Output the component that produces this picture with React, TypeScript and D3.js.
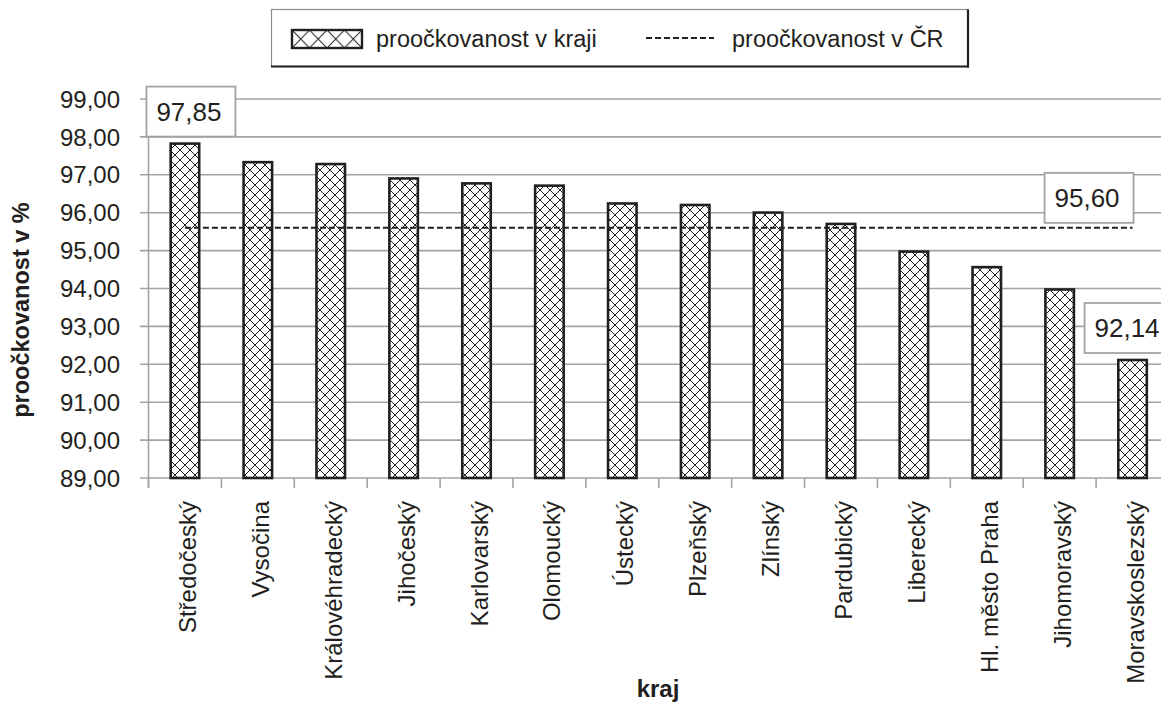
import React from "react";
import * as d3 from "d3";

// Vaccination coverage by region (%)
const regions = [
  "Středočeský",
  "Vysočina",
  "Královéhradecký",
  "Jihočeský",
  "Karlovarský",
  "Olomoucký",
  "Ústecký",
  "Plzeňský",
  "Zlínský",
  "Pardubický",
  "Liberecký",
  "Hl. město Praha",
  "Jihomoravský",
  "Moravskoslezský",
];
const regionValues = [
  97.85, 97.36, 97.31, 96.93, 96.8, 96.74, 96.27, 96.23, 96.03, 95.73, 95.0,
  94.59, 94.0, 92.14,
];
const nationalValue = 95.6;
const yTicks = [89, 90, 91, 92, 93, 94, 95, 96, 97, 98, 99];

const legendLabels = ["proočkovanost v kraji", "proočkovanost v ČR"];
const yTitle = "proočkovanost v %";
const xTitle = "kraj";

const W = 1161;
const H = 703;
const FONT = "'Liberation Sans', Arial, Helvetica, sans-serif";
const INK = "#231f20";
const GRID = "#a3a3a3";

const fmt = (v: number) => d3.format(".2f")(v).replace(".", ",");

export default function App() {
  const x = d3.scaleBand<string>().domain(regions).range([148.5, 1169]).padding(0);
  const y = d3.scaleLinear().domain([89, 99]).range([478, 99]);
  const step = x.step();
  const barW = 28.5;
  const cx = (r: string) => (x(r) as number) + step / 2;

  const first = regions[0];
  const last = regions[regions.length - 1];

  const labelBoxes = [
    { value: regionValues[0], cx: cx(first) + 6, bottom: y(regionValues[0]) - 6 },
    { value: nationalValue, cx: cx(last) - 43.5, bottom: y(nationalValue) - 5 },
    { value: regionValues[regionValues.length - 1], cx: cx(last) - 3.5, bottom: y(regionValues[regionValues.length - 1]) - 6 },
  ];
  const boxW = 89;
  const boxH = 50;

  // legend swatch geometry
  const sw = { x: 292, y: 30, w: 70, h: 18 };

  return (
    <svg
      width={W}
      height={H}
      style={{ position: "absolute", left: 0, top: 0, background: "#fff" }}
      fontFamily={FONT}
    >
      <defs>
        <pattern id="cross" patternUnits="userSpaceOnUse" width={10} height={10}>
          <rect width={10} height={10} fill="#fff" />
          <path d="M0,0 L10,10 M10,0 L0,10" stroke={INK} strokeWidth={1} />
        </pattern>
        <pattern
          id="crossLegend"
          patternUnits="userSpaceOnUse"
          x={sw.x}
          y={sw.y}
          width={sw.w / 4}
          height={sw.h}
        >
          <rect width={sw.w / 4} height={sw.h} fill="#fff" />
          <path
            d={`M0,0 L${sw.w / 4},${sw.h} M${sw.w / 4},0 L0,${sw.h}`}
            stroke={INK}
            strokeWidth={1}
          />
        </pattern>
      </defs>
      <rect width={W} height={H} fill="#fff" />

      {/* horizontal gridlines and y ticks */}
      {yTicks.map((t) => (
        <g key={t}>
          <line x1={140} x2={1169} y1={y(t)} y2={y(t)} stroke={GRID} strokeWidth={1.6} />
          <text
            x={120}
            y={y(t)}
            dy="0.36em"
            textAnchor="end"
            fontSize={24}
            fill={INK}
          >
            {fmt(t)}
          </text>
        </g>
      ))}
      {/* y axis line */}
      <line x1={148.5} x2={148.5} y1={y(99)} y2={488} stroke={GRID} strokeWidth={1.6} />
      {/* x category tick marks */}
      {d3.range(regions.length + 1).map((i) => {
        const xx = 148.5 + i * step;
        return <line key={i} x1={xx} x2={xx} y1={y(89)} y2={488} stroke={GRID} strokeWidth={1.6} />;
      })}

      {/* bars */}
      {regions.map((r, i) => (
        <rect
          key={r}
          x={cx(r) - barW / 2}
          y={y(regionValues[i]) + 1}
          width={barW}
          height={y(89) - y(regionValues[i]) - 1}
          fill="url(#cross)"
          stroke={INK}
          strokeWidth={2.6}
        />
      ))}

      {/* national average line */}
      <line
        x1={cx(first)}
        x2={cx(last)}
        y1={y(nationalValue)}
        y2={y(nationalValue)}
        stroke={INK}
        strokeWidth={2}
        strokeDasharray="6,3"
      />

      {/* value labels */}
      {labelBoxes.map((b, i) => (
        <g key={i}>
          <rect
            x={b.cx - boxW / 2}
            y={b.bottom - boxH}
            width={boxW}
            height={boxH}
            fill="#fff"
            stroke={GRID}
            strokeWidth={1.8}
          />
          <text
            x={b.cx - 2}
            y={b.bottom - boxH / 2}
            dy="0.36em"
            textAnchor="middle"
            fontSize={26}
            fill={INK}
          >
            {fmt(b.value)}
          </text>
        </g>
      ))}

      {/* category labels */}
      {regions.map((r) => (
        <text
          key={r}
          transform={`translate(${cx(r) + 11},501) rotate(-90)`}
          textAnchor="end"
          fontSize={24}
          fill={INK}
        >
          {r}
        </text>
      ))}

      {/* axis titles */}
      <text
        transform={`translate(29,310) rotate(-90)`}
        textAnchor="middle"
        fontSize={23.5}
        fontWeight="bold"
        fill={INK}
      >
        {yTitle}
      </text>
      <text x={658} y={697} textAnchor="middle" fontSize={24} fontWeight="bold" fill={INK}>
        {xTitle}
      </text>

      {/* legend */}
      <g>
        <rect x={271.5} y={9.5} width={696.5} height={57} fill="#fff" stroke="#8c8c8c" strokeWidth={1.2} />
        <line x1={271} x2={969} y1={66.5} y2={66.5} stroke={INK} strokeWidth={2.2} />
        <line x1={968} x2={968} y1={9.5} y2={67.5} stroke={INK} strokeWidth={2.2} />
        <rect x={sw.x} y={sw.y} width={sw.w} height={sw.h} fill="url(#crossLegend)" stroke={INK} strokeWidth={2.4} />
        <text x={376} y={46.5} fontSize={23.5} fill={INK}>
          {legendLabels[0]}
        </text>
        <line x1={646} x2={714} y1={38} y2={38} stroke={INK} strokeWidth={2} strokeDasharray="6,3" />
        <text x={732} y={46.5} fontSize={23.5} fill={INK}>
          {legendLabels[1]}
        </text>
      </g>
    </svg>
  );
}
